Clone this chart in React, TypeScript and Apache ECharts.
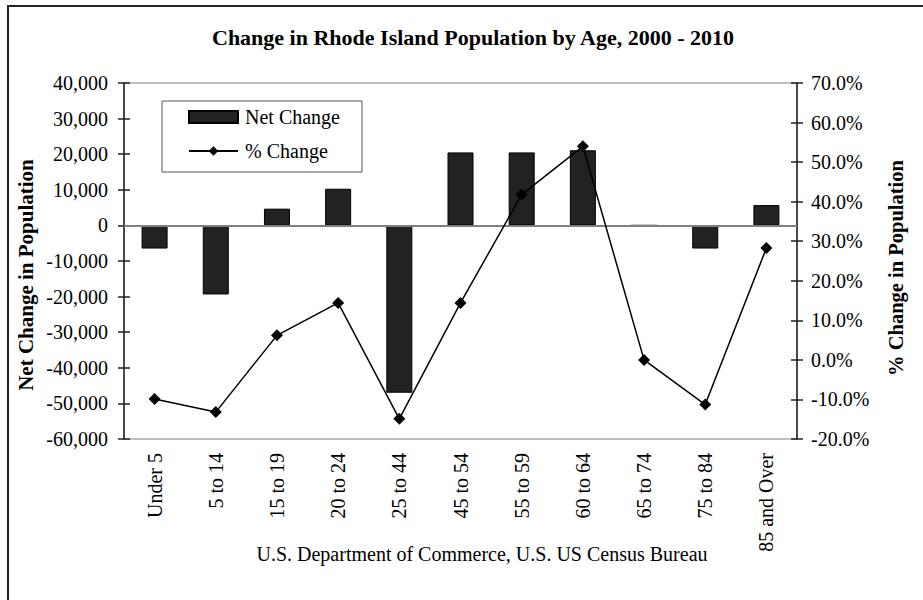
import React, { useEffect, useRef } from "react";
import * as echarts from "echarts";

const categories = ["Under 5", "5 to 14", "15 to 19", "20 to 24", "25 to 44", "45 to 54", "55 to 59", "60 to 64", "65 to 74", "75 to 84", "85 and Over"];
const netChange = [-6500, -19400, 4700, 10300, -47000, 20500, 20500, 21100, 0, -6500, 5700];
const pctChange = [-9.9, -13.2, 6.2, 14.4, -14.9, 14.4, 41.8, 54.0, 0.0, -11.3, 28.3];

const titleText = "Change in Rhode Island Population by Age, 2000 - 2010";
const leftAxisTitle = "Net Change in Population";
const rightAxisTitle = "% Change in Population";
const sourceText = "U.S. Department of Commerce, U.S. US Census Bureau";

const FONT = "'Liberation Serif', 'Times New Roman', serif";

export default function App() {
  const ref = useRef<HTMLDivElement>(null);
  useEffect(() => {
    if (!ref.current) return;
    const chart = echarts.init(ref.current, undefined, { renderer: "svg" });
    const leftAxisBase = {
      type: "value",
      min: -60000,
      max: 40000,
      interval: 10000,
      position: "left",
      splitLine: { show: false },
    };
    const rightAxisBase = {
      type: "value",
      min: -20,
      max: 70,
      interval: 10,
      position: "right",
      splitLine: { show: false },
    };
    chart.setOption({
      animation: false,
      backgroundColor: "#ffffff",
      textStyle: { fontFamily: FONT },
      grid: {
        left: 124,
        right: 126,
        top: 83,
        bottom: 161,
        show: true,
        borderColor: "#808080",
        borderWidth: 1,
        backgroundColor: "transparent",
      },
      legend: {
        orient: "vertical",
        left: 162,
        top: 101,
        padding: [6, 22, 11, 26],
        itemGap: 14,
        itemWidth: 49,
        itemHeight: 12,
        borderColor: "#555555",
        borderWidth: 1,
        backgroundColor: "#ffffff",
        textStyle: { fontFamily: FONT, fontSize: 20, color: "#000", lineHeight: 20, padding: [0, 0, 0, 2] },
        data: [
          { name: "Net Change", icon: "rect" },
          { name: "% Change" },
        ],
      },
      xAxis: {
        type: "category",
        data: categories,
        axisLine: { show: false },
        axisTick: { show: false },
        splitLine: { show: false },
        axisLabel: {
          rotate: 90,
          interval: 0,
          margin: 14,
          fontFamily: FONT,
          fontSize: 20,
          color: "#000",
        },
      },
      yAxis: [
        {
          ...leftAxisBase,
          axisLine: { show: true, lineStyle: { color: "#222", width: 1.5 } },
          axisTick: { show: true, inside: false, length: 6, lineStyle: { color: "#222", width: 1.5 } },
          axisLabel: {
            margin: 16,
            fontFamily: FONT,
            fontSize: 20,
            color: "#000",
            formatter: (v: number) => v.toLocaleString("en-US"),
          },
        },
        {
          ...rightAxisBase,
          axisLine: { show: true, lineStyle: { color: "#222", width: 1.5 } },
          axisTick: { show: true, inside: false, length: 6, lineStyle: { color: "#222", width: 1.5 } },
          axisLabel: {
            margin: 14,
            fontFamily: FONT,
            fontSize: 20,
            color: "#000",
            formatter: (v: number) => v.toFixed(1) + "%",
          },
        },
        {
          ...leftAxisBase,
          axisLine: { show: false },
          axisTick: { show: true, inside: true, length: 6, lineStyle: { color: "#222", width: 1.5 } },
          axisLabel: { show: false },
        },
        {
          ...rightAxisBase,
          axisLine: { show: false },
          axisTick: { show: true, inside: true, length: 6, lineStyle: { color: "#222", width: 1.5 } },
          axisLabel: { show: false },
        },
      ],
      series: [
        {
          name: "Net Change",
          type: "bar",
          yAxisIndex: 0,
          data: netChange,
          barWidth: 26,
          z: 2,
          itemStyle: { color: "#222222", borderColor: "#000", borderWidth: 1 },
          markLine: {
            silent: true,
            symbol: "none",
            label: { show: false },
            lineStyle: { color: "#808080", type: "solid", width: 2 },
            data: [{ yAxis: 0 }],
            z: 4,
          },
        },
        {
          name: "% Change",
          type: "line",
          yAxisIndex: 1,
          data: pctChange,
          symbol: "diamond",
          symbolSize: 12,
          lineStyle: { color: "#000", width: 1.5 },
          itemStyle: { color: "#000" },
          z: 5,
        },
      ],
      graphic: [
        {
          type: "rect",
          shape: { x: 8, y: 6, width: 1200, height: 1200 },
          style: { fill: "none", stroke: "#222", lineWidth: 2 },
          silent: true,
        },
        {
          type: "text",
          x: 473,
          y: 37,
          style: {
            text: titleText,
            fontFamily: FONT,
            fontSize: 22,
            fontWeight: "bold",
            fill: "#000",
            align: "center",
            verticalAlign: "middle",
          },
        },
        {
          type: "text",
          x: 26,
          y: 275,
          rotation: Math.PI / 2,
          style: {
            text: leftAxisTitle,
            fontFamily: FONT,
            fontSize: 21,
            fontWeight: "bold",
            fill: "#000",
            align: "center",
            verticalAlign: "middle",
          },
        },
        {
          type: "text",
          x: 896,
          y: 268,
          rotation: Math.PI / 2,
          style: {
            text: rightAxisTitle,
            fontFamily: FONT,
            fontSize: 20.5,
            fontWeight: "bold",
            fill: "#000",
            align: "center",
            verticalAlign: "middle",
          },
        },
        {
          type: "text",
          x: 482,
          y: 554,
          style: {
            text: sourceText,
            fontFamily: FONT,
            fontSize: 20,
            fill: "#000",
            align: "center",
            verticalAlign: "middle",
          },
        },
      ],
    });
    return () => chart.dispose();
  }, []);
  return (
    <div
      ref={ref}
      style={{ position: "absolute", left: 0, top: 0, width: 923, height: 600, background: "#fff" }}
    />
  );
}
